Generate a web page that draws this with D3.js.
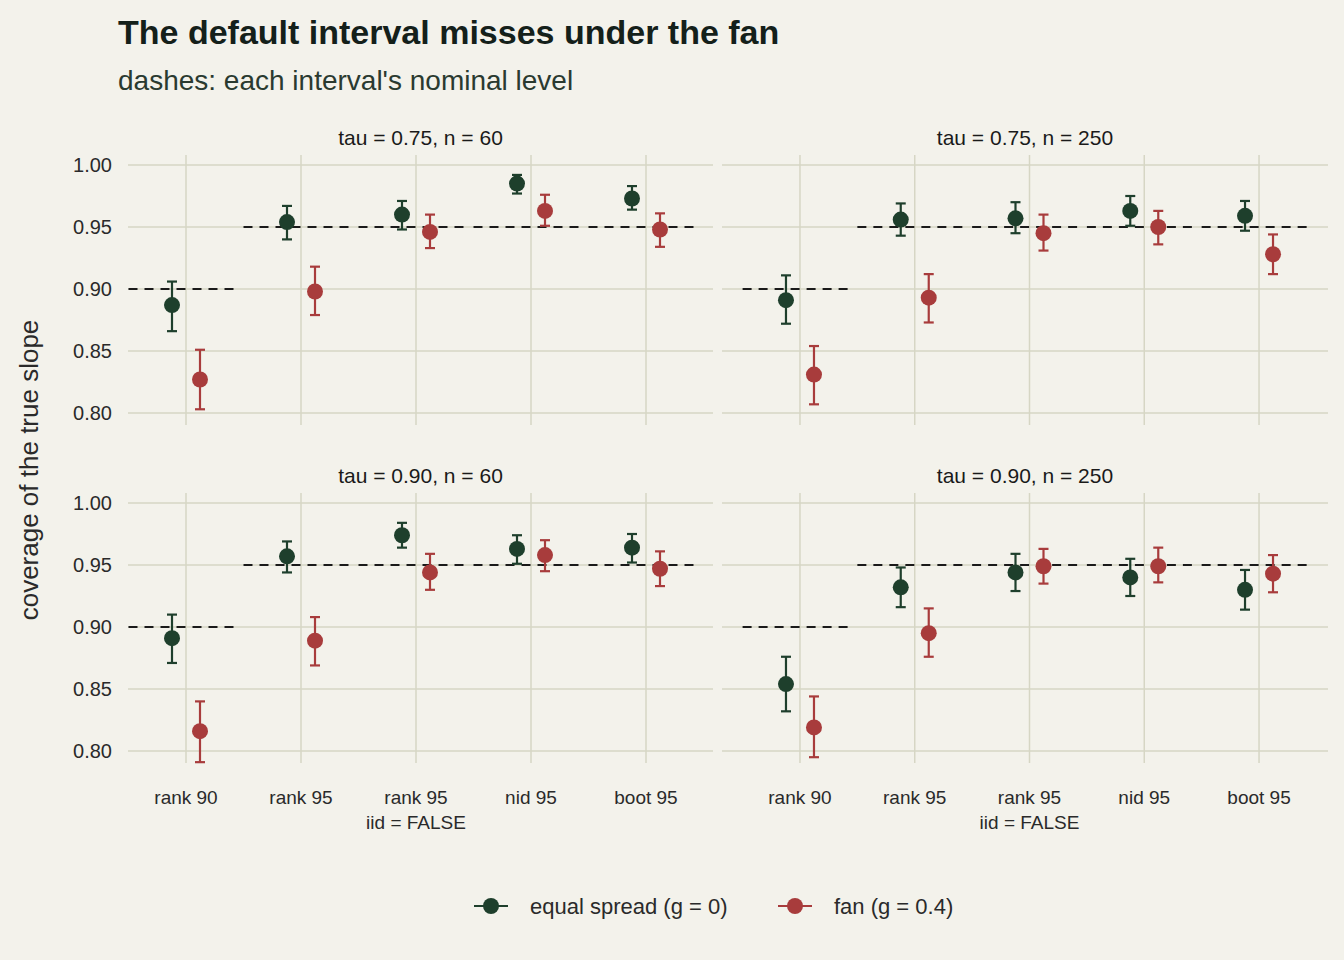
<!DOCTYPE html>
<html><head><meta charset="utf-8">
<script src="https://cdn.jsdelivr.net/npm/d3@7"></script>
<style>body{margin:0;background:#f3f2eb;font-family:"Liberation Sans",Arial,sans-serif}</style>
</head><body><svg id="c" width="1344" height="960"></svg>
<script>
var categories = ["rank 90", "rank 95", "rank 95\niid = FALSE", "nid 95", "boot 95"];
var nominal = [0.90, 0.95, 0.95, 0.95, 0.95];
var panels = ["tau = 0.75, n = 60", "tau = 0.75, n = 250", "tau = 0.90, n = 60", "tau = 0.90, n = 250"];
var series = ["equal spread (g = 0)", "fan (g = 0.4)"];
// [estimate, low, high] per category, per panel
var equal = [
  [[0.887,0.906,0.866],[0.954,0.967,0.940],[0.960,0.971,0.948],[0.985,0.992,0.977],[0.973,0.983,0.964]],
  [[0.891,0.911,0.872],[0.956,0.969,0.943],[0.957,0.970,0.945],[0.963,0.975,0.951],[0.959,0.971,0.947]],
  [[0.891,0.910,0.871],[0.957,0.969,0.944],[0.974,0.984,0.964],[0.963,0.974,0.951],[0.964,0.975,0.952]],
  [[0.854,0.876,0.832],[0.932,0.948,0.916],[0.944,0.959,0.929],[0.940,0.955,0.925],[0.930,0.946,0.914]]
];
var fan = [
  [[0.827,0.851,0.803],[0.898,0.918,0.879],[0.946,0.960,0.933],[0.963,0.976,0.951],[0.948,0.961,0.934]],
  [[0.831,0.854,0.807],[0.893,0.912,0.873],[0.945,0.960,0.931],[0.950,0.963,0.936],[0.928,0.944,0.912]],
  [[0.816,0.840,0.791],[0.889,0.908,0.869],[0.944,0.959,0.930],[0.958,0.970,0.945],[0.947,0.961,0.933]],
  [[0.819,0.844,0.795],[0.895,0.915,0.876],[0.949,0.963,0.935],[0.949,0.964,0.936],[0.943,0.958,0.928]]
];
var yTicks = [0.80, 0.85, 0.90, 0.95, 1.00];
var colors = ["#1e3f2c", "#a83c3c"];

var svg = d3.select("#c");
var grid = "#d6d6c4", ink = "#2a2a2a";
svg.append("text").attr("x",118).attr("y",44).attr("font-size",34).attr("font-weight","bold").attr("fill","#14201a")
  .text("The default interval misses under the fan");
svg.append("text").attr("x",118).attr("y",90).attr("font-size",28).attr("fill","#2a3a30")
  .text("dashes: each interval's nominal level");
svg.append("text").attr("transform","translate(38,470) rotate(-90)").attr("text-anchor","middle")
  .attr("font-size",26).attr("fill",ink).text("coverage of the true slope");

var cols = [[128,713],[722,1328]], bands = [[128.5,703.5],[742.6,1316.4]], rows = [[155,425],[493,763]];
panels.forEach(function(p, i) {
  var c = cols[i % 2], r = rows[Math.floor(i / 2)];
  var x = d3.scaleBand().domain(d3.range(5)).range(bands[i % 2]);
  var y = d3.scaleLinear().domain([0.80, 1.00]).range([r[0] + 258, r[0] + 10]);
  var g = svg.append("g");
  g.append("text").attr("x",(c[0]+c[1])/2).attr("y",r[0]-10).attr("text-anchor","middle")
    .attr("font-size",21).attr("fill","#1a1a1a").text(p);
  g.selectAll(".hg").data(yTicks).enter().append("line")
    .attr("x1",c[0]).attr("x2",c[1]).attr("y1",y).attr("y2",y).attr("stroke",grid).attr("stroke-width",1.5);
  g.selectAll(".vg").data(d3.range(5)).enter().append("line")
    .attr("x1",function(d){return x(d)+x.bandwidth()/2;}).attr("x2",function(d){return x(d)+x.bandwidth()/2;})
    .attr("y1",r[0]).attr("y2",r[1]).attr("stroke",grid).attr("stroke-width",1.5);
  if (i % 2 == 0) {
    g.selectAll(".yl").data(yTicks).enter().append("text").attr("x",c[0]-16).attr("y",function(d){return y(d)+7;})
      .attr("text-anchor","end").attr("font-size",20).attr("fill",ink).text(function(d){return d.toFixed(2);});
  }
  if (i >= 2) {
    categories.forEach(function(cat, k) {
      var t = g.append("text").attr("x",x(k)+x.bandwidth()/2).attr("y",r[1]+41).attr("text-anchor","middle")
        .attr("font-size",19).attr("fill",ink);
      cat.split("\n").forEach(function(s, j){ t.append("tspan").attr("x",x(k)+x.bandwidth()/2).attr("dy", j ? 25 : 0).text(s); });
    });
  }
  g.selectAll(".nom").data(nominal).enter().append("line")
    .attr("x1",function(d,k){return x(k);}).attr("x2",function(d,k){return x(k)+x.bandwidth()*0.93;})
    .attr("y1",y).attr("y2",y).attr("stroke","#1a1a1a").attr("stroke-width",2).attr("stroke-dasharray","9,7");
  [equal[i], fan[i]].forEach(function(s, si) {
    var off = si ? 14 : -14;
    var sg = g.append("g").attr("stroke",colors[si]).attr("fill",colors[si]);
    var cx = function(d,k){return x(k)+x.bandwidth()/2+off;};
    sg.selectAll(".e").data(s).enter().append("line").attr("x1",cx).attr("x2",cx)
      .attr("y1",function(d){return y(d[1]);}).attr("y2",function(d){return y(d[2]);}).attr("stroke-width",2.2);
    [1,2].forEach(function(e){
      sg.selectAll(".cap"+e).data(s).enter().append("line")
        .attr("x1",function(d,k){return cx(d,k)-5;}).attr("x2",function(d,k){return cx(d,k)+5;})
        .attr("y1",function(d){return y(d[e]);}).attr("y2",function(d){return y(d[e]);}).attr("stroke-width",2.2);
    });
    sg.selectAll("circle").data(s).enter().append("circle").attr("cx",cx).attr("cy",function(d){return y(d[0]);})
      .attr("r",8).attr("stroke","none");
  });
});

var lg = svg.append("g");
var lx = [474, 778];
series.forEach(function(s, i) {
  var gg = lg.append("g").attr("transform","translate("+lx[i]+",906)");
  gg.append("line").attr("x1",0).attr("x2",34).attr("stroke",colors[i]).attr("stroke-width",2.2);
  gg.append("circle").attr("cx",17).attr("r",8).attr("fill",colors[i]);
  gg.append("text").attr("x",56).attr("y",8).attr("font-size",22).attr("fill",ink).text(s);
});
</script></body></html>
